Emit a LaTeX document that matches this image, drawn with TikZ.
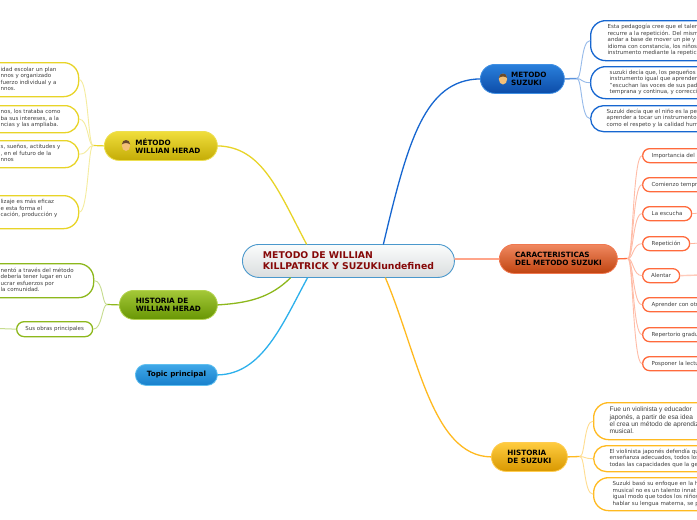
\documentclass[tikz,border=0pt]{standalone}
\usepackage{fontspec}
\setmainfont{DejaVu Sans}
\newfontfamily\arialf{Liberation Sans}
\usetikzlibrary{calc}
\definecolor{cyel}{HTML}{E8D428}
\definecolor{cgrn}{HTML}{8DB81C}
\definecolor{cblu}{HTML}{1666D0}
\definecolor{cora}{HTML}{FF6A3C}
\definecolor{cgol}{HTML}{FFBA20}
\definecolor{csky}{HTML}{2CB0EC}
\definecolor{ctxt}{HTML}{404040}
\definecolor{ctop}{HTML}{FAFCFC}\definecolor{cbot}{HTML}{DADDDE}\definecolor{cedge}{HTML}{4A98CC}\definecolor{cred}{HTML}{860808}
\definecolor{yt}{HTML}{F0DE3C}\definecolor{yb}{HTML}{C4AC06}\definecolor{ye}{HTML}{EDDF50}
\definecolor{gt}{HTML}{A4C838}\definecolor{gb}{HTML}{689604}\definecolor{ge}{HTML}{B4D450}
\definecolor{st}{HTML}{40A8E8}\definecolor{sb}{HTML}{1880CC}\definecolor{se}{HTML}{60C0F0}
\definecolor{bt}{HTML}{2A80DC}\definecolor{bb}{HTML}{0C4CA8}\definecolor{be}{HTML}{4090E4}
\definecolor{ot}{HTML}{F08860}\definecolor{ob}{HTML}{C04410}\definecolor{oe}{HTML}{F07850}
\definecolor{dt}{HTML}{FFCC40}\definecolor{db}{HTML}{D89800}\definecolor{de}{HTML}{FFCC50}
\definecolor{skin}{HTML}{F4C078}\definecolor{hair}{HTML}{6A4A2A}
\tikzset{
  x=1pt,y=-1pt,
  mainbox/.style={minimum width=#1,inner sep=0pt,align=left,font=\fontsize{7.25}{8.3}\selectfont\bfseries,text=black},
  leafbox/.style={draw=#1,line width=1.3pt,fill=white,inner sep=0pt,anchor=north west,text=ctxt,font=\fontsize{5.5}{6.5}\selectfont},
  conn/.style={line width=#1,line cap=round},
  twig/.style={line width=.9pt,line cap=round},
  myel/.style={top color=yt,bottom color=yb,draw=ye,line width=.8pt},
  mgrn/.style={top color=gt,bottom color=gb,draw=ge,line width=.8pt},
  msky/.style={top color=st,bottom color=sb,draw=se,line width=.8pt},
  mblu/.style={top color=bt,bottom color=bb,draw=be,line width=.8pt},
  mora/.style={top color=ot,bottom color=ob,draw=oe,line width=.8pt},
  mgol/.style={top color=dt,bottom color=db,draw=de,line width=.8pt},
}
% name, x0, y0, x1, y1, colour, text
\newcommand{\leafnode}[7]{%
  \pgfmathsetmacro{\lw}{#4-#2}\pgfmathsetmacro{\lh}{#5-#3}\pgfmathsetmacro{\lr}{min(\lh/2,15)}%
  \node[leafbox=#6,rounded corners=\lr pt,minimum width=\lw pt,minimum height=\lh pt] (#1) at (#2,#3) {#7};}
\newcommand{\mainnode}[7]{%
  \pgfmathsetmacro{\lw}{#4-#2}\pgfmathsetmacro{\lh}{#5-#3}\pgfmathsetmacro{\lr}{\lh/2}%
  \node[mainbox=\lw pt,#6,anchor=north west,minimum height=\lh pt,rounded corners=\lr pt] (#1) at (#2,#3) {#7};}
\newcommand{\facedraw}[2]{%
  \fill[skin] (#1,#2) ellipse (4.2 and 5.5);
  \fill[hair] (#1-4.2,#2-1) .. controls (#1-4,#2-7) and (#1+4,#2-7) .. (#1+4.2,#2-1) .. controls (#1+2,#2-3) and (#1-2,#2-3) .. cycle;}
% box width, indent of the text from the box's left edge, lines
\newcommand{\blk}[3]{\makebox[#1pt][l]{\hspace*{#2pt}\begin{tabular}{@{}l@{}}#3\end{tabular}}}
\newcommand{\rowt}[1]{\makebox[118pt][l]{\hspace*{9pt}#1}}
\begin{document}
\begin{tikzpicture}
\useasboundingbox (0,0) rectangle (697,520);
\clip (0,0) rectangle (697,520);
\fill[white] (0,0) rectangle (697,520);

\node[anchor=north west,minimum width=212pt,minimum height=33pt,rounded corners=16.5pt,
  top color=ctop,bottom color=cbot,draw=cedge,line width=.9pt,inner sep=0pt,align=left,
  font=\fontsize{9.3}{10.7}\selectfont\bfseries,text=cred] (c) at (242,244)
  {METODO DE WILLIAN\\KILLPATRICK Y SUZUKIundefined};

% main topics
\mainnode{m1}{104}{131}{217}{160}{myel}{\hspace*{14pt}MÉTODO\\\hspace*{14pt}WILLIAN HERAD}
\mainnode{m2}{119}{290}{217}{319}{mgrn}{HISTORIA DE\\WILLIAN HERAD}
\mainnode{m3}{135}{364}{217}{385}{msky}{Topic principal}
\mainnode{m4}{480}{64}{564}{93}{mblu}{\hspace*{13pt}METODO\\\hspace*{13pt}SUZUKI}
\mainnode{m5}{499}{244}{617}{273}{mora}{CARACTERISTICAS\\DEL METODO SUZUKI}
\mainnode{m6}{491}{442}{567}{471}{mgol}{HISTORIA\\DE SUZUKI}
\facedraw{126}{145.5}
\facedraw{503}{79}

% leaves left, yellow
\leafnode{a1}{-20}{62}{78}{96}{cyel}{\blk{98}{20}{idad escolar un plan\\nnos y organizado\\fuerzo individual y a\\nnos.}}
\leafnode{a2}{-20}{105}{78}{132}{cyel}{\blk{98}{20}{nos, los trataba como\\ba sus intereses, a la\\ncias y las ampliaba.}}
\leafnode{a3}{-20}{140}{78}{167}{cyel}{\blk{98}{20}{s, sueños, actitudes y\\, en el futuro de la\\nnos}}
\leafnode{a4}{-20}{195}{78}{228}{cyel}{\blk{98}{20}{lizaje es más eficaz\\e esta forma el\\cación, producción y\\\mbox{}}}
% leaves left, green
\leafnode{b1}{-20}{263}{93}{297}{cgrn}{\blk{113}{20}{nentó a través del método\\debería tener lugar en un\\ucrar esfuerzos por\\la comunidad.}}
\leafnode{b2}{16}{321}{92}{336}{cgrn}{Sus obras principales}
\coordinate (b2end) at (-2,328.5);

% leaves right, blue
\leafnode{d1}{590}{20}{780}{60}{cblu}{\blk{190}{17}{Esta pedagogía cree que el talen\\recurre a la repetición. Del mism\\andar a base de mover un pie y\\idioma con constancia, los niños\\instrumento mediante la repetici}}
\leafnode{d2}{590}{66}{780}{98}{cblu}{\blk{190}{19}{suzuki decía que, los pequeños\\instrumento igual que aprenden\\"escuchan las voces de sus pad\\temprana y continua, y correcci}}
\leafnode{d3}{590}{105}{780}{131}{cblu}{\blk{190}{16}{Suzuki decía que el niño es la pe\\aprender a tocar un instrumento,\\como el respeto y la calidad hum}}

% leaves right, orange
\leafnode{e1}{642}{148}{760}{162}{cora}{\rowt{Importancia del}}
\leafnode{e2}{642}{177}{760}{191}{cora}{\rowt{Comienzo tempr}}
\leafnode{e3}{642}{206}{691}{220}{cora}{La escucha}
\leafnode{e4}{642}{236}{689}{250}{cora}{Repetición}
\leafnode{e5}{642}{268}{679}{282}{cora}{Alentar}
\leafnode{e6}{642}{297}{760}{311}{cora}{\rowt{Aprender con otr}}
\leafnode{e7}{642}{327}{760}{341}{cora}{\rowt{Repertorio gradu}}
\leafnode{e8}{642}{356}{760}{370}{cora}{\rowt{Posponer la lectu}}
\coordinate (e3end) at (700,213);
\coordinate (e4end) at (700,243);
\coordinate (e5end) at (700,275);

% leaves right, gold
\leafnode{f1}{593}{402}{790}{439}{cgol}{\makebox[197pt][l]{\hspace*{16pt}\arialf\fontsize{6.6}{8}\selectfont\begin{tabular}{@{}l@{}}Fue un violinista y educador\\[-.6pt]japonés, a partir de esa idea\\[-.6pt]el crea un método de aprendiz\\[-.6pt]musical.\end{tabular}}}
\leafnode{f2}{593}{445}{790}{471}{cgol}{\blk{197}{16}{El violinista japonés defendía qu\\enseñanza adecuados, todos los\\todas las capacidades que la ge}}
\leafnode{f3}{593}{477}{790}{510}{cgol}{\blk{197}{19}{Suzuki basó su enfoque en la h\\musical no es un talento innat\\igual modo que todos los niños\\hablar su lengua materna, se p}}

% branches from the centre
\draw[conn=1.3pt,cyel] (m1.east) .. controls (262,147) and (278,190) .. ($(c.north)+(-42,0)$);
\draw[conn=1.3pt,cgrn] (m2.east) .. controls (248,303) and (270,298) .. ($(c.south)+(-58,0)$);
\draw[conn=1.3pt,csky] (m3.east) .. controls (262,374) and (282,325) .. ($(c.south)+(-41,0)$);
\draw[conn=1.3pt,cblu] (m4.west) .. controls (425,80) and (408,140) .. ($(c.north)+(35,0)$);
\draw[conn=1.3pt,cora!60] (c.east |- m5.west) -- (m5.west);
\draw[conn=1.3pt,cgol] (m6.west) .. controls (432,456) and (418,355) .. ($(c.south)+(37,0)$);

% yellow twigs
\coordinate (ja) at (93,145.5);
\draw[conn=1.2pt,cyel] (m1.west) -- (ja);
\foreach \t in {a1,a2,a3,a4}
  \draw[twig,cyel!45] (ja) .. controls ($(ja)+(-5,0)$) and ($(\t.east)+(9,0)$) .. (\t.east);
% green twigs
\coordinate (jb) at (107,304.5);
\draw[conn=1.2pt,cgrn] (m2.west) -- (jb);
\foreach \t in {b1,b2}
  \draw[twig,cgrn!50] (jb) .. controls ($(jb)+(-5,0)$) and ($(\t.east)+(9,0)$) .. (\t.east);
\draw[conn=1pt,cgrn!50] (b2.west) -- (b2end);
% blue twigs
\coordinate (jd) at (577,78.5);
\draw[conn=1.5pt,cblu!70] (m4.east) -- (jd);
\foreach \t in {d1,d2,d3}
  \draw[twig,cblu!45] (jd) .. controls ($(jd)+(5,0)$) and ($(\t.west)+(-9,0)$) .. (\t.west);
% orange twigs
\coordinate (je) at (628,258.5);
\draw[conn=1.3pt,cora] (m5.east) -- (je);
\foreach \t in {e1,e2,e3,e4,e5,e6,e7,e8}
  \draw[twig,cora!45] (je) .. controls ($(je)+(5,0)$) and ($(\t.west)+(-9,0)$) .. (\t.west);
\draw[conn=.8pt,cora!50] (e3.east) -- (e3end);
\draw[conn=.8pt,cora!50] (e4.east) -- (e4end);
\draw[conn=1.4pt,cora!35] (e5.east) -- (e5end);
% gold twigs
\coordinate (jf) at (580,456.5);
\draw[conn=1.3pt,cgol] (m6.east) -- (jf);
\foreach \t in {f1,f2,f3}
  \draw[twig,cgol!50] (jf) .. controls ($(jf)+(5,0)$) and ($(\t.west)+(-9,0)$) .. (\t.west);
\end{tikzpicture}
\end{document}
